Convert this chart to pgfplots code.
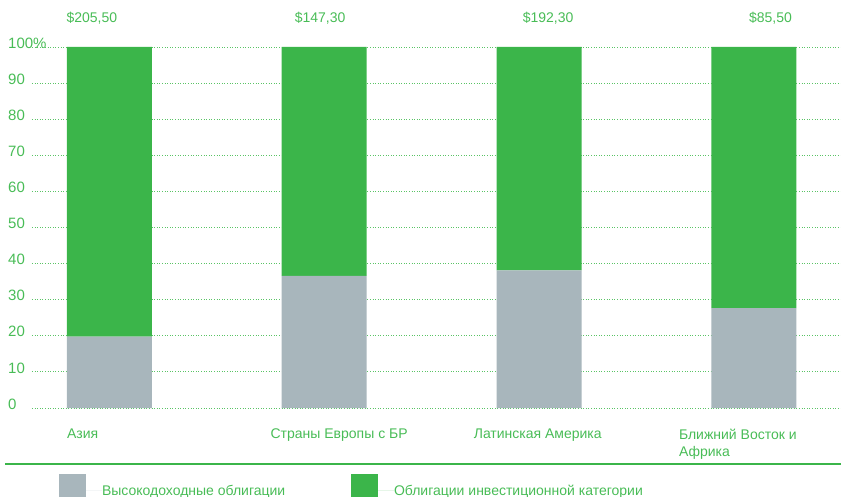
\documentclass[border=0pt]{standalone}
\usepackage{fontspec}
\setmainfont{Liberation Sans}
\usepackage{pgfplots}
\usepackage{pgfplotstable}
\pgfplotsset{compat=1.18}
\definecolor{barGreen}{RGB}{59,181,74}
\definecolor{barGray}{RGB}{168,182,188}
\definecolor{txtGreen}{RGB}{72,188,86}
\definecolor{gridGreen}{RGB}{90,196,102}
\pgfplotstableread{
x hy ig
0 19.8 80.2
1 36.6 63.4
2 38.1 61.9
3 27.7 72.3
}\datatable
\begin{document}
\begin{tikzpicture}
\useasboundingbox (0,0) rectangle (841bp,497bp);
\begin{axis}[
  at={(32bp,89bp)}, anchor=south west,
  scale only axis, width=809bp, height=361bp,
  ybar stacked, bar width=85bp,
  xmin=-0.36, xmax=3.405, ymin=0, ymax=100,
  clip=false,
  axis line style={draw=none},
  major tick length=0pt,
  xtick={0,0.9474,1.893,2.848},
  xticklabels={Азия, Страны Европы с БР, Латинская Америка, {Ближний Восток и\\Африка}},
  ytick={0,10,...,100},
  yticklabels={0,10,20,30,40,50,60,70,80,90,100\%},
  ymajorgrids,
  grid style={gridGreen, line width=0.8bp, dash pattern=on 1bp off 1.6bp},
  tick label style={text=txtGreen, inner sep=0pt},
  yticklabel style={anchor=west, xshift=-24bp, yshift=4bp, font=\fontsize{15bp}{17bp}\selectfont},
  xticklabel style={anchor=north west, align=left, xshift=-42.5bp, yshift=-21bp, font=\fontsize{14bp}{17bp}\selectfont},
  extra x ticks={-0.0814,0.981,2.042,3.077},
  extra x tick labels={{\$205,50},{\$147,30},{\$192,30},{\$85,50}},
  extra x tick style={xticklabel pos=upper, xticklabel style={anchor=center, xshift=42.5bp, yshift=50bp, font=\fontsize{14bp}{16bp}\selectfont}},
  legend style={at={(0.0334,-0.1828)}, anchor=north west, draw=none, fill=none,
    inner sep=0pt, outer sep=0pt, legend columns=2,
    font=\fontsize{14bp}{16bp}\selectfont,
    nodes={text=txtGreen, inner sep=0pt},
    /tikz/column sep=0pt},
  legend image code/.code={\fill[#1] (0bp,-7bp) rectangle (27bp,17bp); \path (0bp,0bp) -- (43bp,0bp);},
]
\addplot[fill=barGray, draw=none] table[x=x, y=hy] {\datatable};
\addlegendentry{\makebox[249bp][l]{Высокодоходные облигации}}
\addplot[fill=barGreen, draw=none] table[x=x, y=ig] {\datatable};
\addlegendentry{Облигации инвестиционной категории}
\end{axis}
\draw[barGreen, line width=2.5bp] (5bp,33bp) -- (841bp,33bp);
\end{tikzpicture}
\end{document}
